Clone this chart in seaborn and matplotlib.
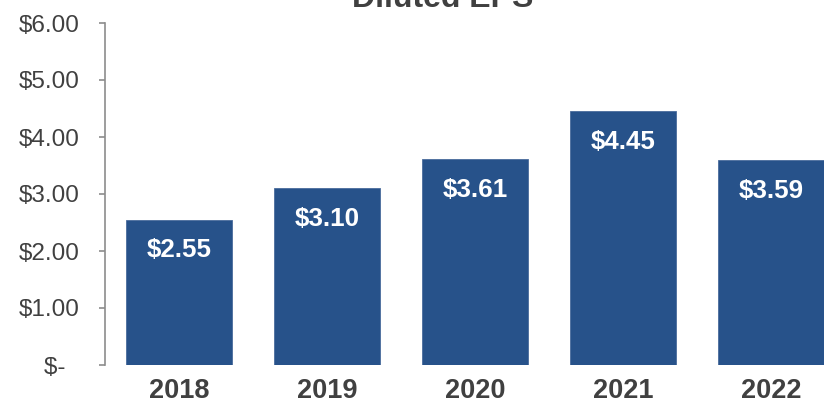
import matplotlib
matplotlib.use("Agg")
import matplotlib.pyplot as plt
import seaborn as sns
import pandas as pd

# Diluted earnings per share by fiscal year
years = ["2018", "2019", "2020", "2021", "2022"]
eps = [2.55, 3.10, 3.61, 4.45, 3.59]
bar_labels = ["$2.55", "$3.10", "$3.61", "$4.45", "$3.59"]
y_ticks = [0, 1, 2, 3, 4, 5, 6]
y_tick_labels = ["$-  ", "$1.00", "$2.00", "$3.00", "$4.00", "$5.00", "$6.00"]
title = "Diluted EPS"

sns.set_theme(style="white")
plt.rcParams["font.family"] = ["Liberation Sans", "DejaVu Sans"]

df = pd.DataFrame({"year": years, "eps": eps})

W, H = 824, 403
fig = plt.figure(figsize=(W / 100, H / 100), dpi=100)
ax = fig.add_axes([105 / W, (H - 365) / H, 740 / W, 342 / H])

bar_color = "#27528A"
sns.barplot(data=df, x="year", y="eps", color=bar_color, saturation=1,
            width=0.715, ax=ax, edgecolor="#4a6c9c", linewidth=0.6)

ax.set_xlim(-0.5, 4.5)
ax.set_ylim(0, 6)
ax.set_xlabel("")
ax.set_ylabel("")

ax.set_yticks(y_ticks)
ax.set_yticklabels(y_tick_labels)
ax.tick_params(axis="y", length=4.5, width=1.2, color="#8c8c8c", pad=14,
               labelsize=17.5, labelcolor="#404040", left=True, direction="out")
ax.tick_params(axis="x", length=0, pad=9, labelsize=19.5, labelcolor="#404040")
for lbl in ax.get_xticklabels():
    lbl.set_fontweight("bold")

for side in ["top", "right", "bottom"]:
    ax.spines[side].set_visible(False)
ax.spines["left"].set_color("#8c8c8c")
ax.spines["left"].set_linewidth(1.2)

# value labels inside the top of each bar
for i, (v, txt) in enumerate(zip(eps, bar_labels)):
    ax.annotate(txt, xy=(i, v), xytext=(0, -22), textcoords="offset points",
                ha="center", va="center", color="white", fontsize=18.7,
                fontweight="bold")

fig.text(443 / W, 1 - 7 / H, title, ha="center", va="baseline",
         fontsize=23, fontweight="bold", color="#404040")

fig.savefig("out.png", dpi=100)
